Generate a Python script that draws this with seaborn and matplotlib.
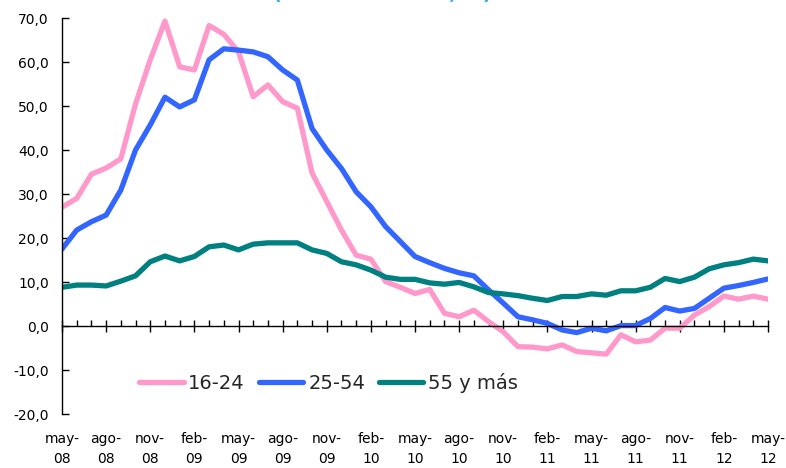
import matplotlib
matplotlib.use("Agg")
import matplotlib.pyplot as plt
from matplotlib.ticker import FixedLocator, FuncFormatter
import seaborn as sns
import numpy as np
import pandas as pd

# meses de may-08 a may-12
months = ["may-08", "jun-08", "jul-08", "ago-08", "sep-08", "oct-08", "nov-08", "dic-08",
          "ene-09", "feb-09", "mar-09", "abr-09", "may-09", "jun-09", "jul-09", "ago-09",
          "sep-09", "oct-09", "nov-09", "dic-09", "ene-10", "feb-10", "mar-10", "abr-10",
          "may-10", "jun-10", "jul-10", "ago-10", "sep-10", "oct-10", "nov-10", "dic-10",
          "ene-11", "feb-11", "mar-11", "abr-11", "may-11", "jun-11", "jul-11", "ago-11",
          "sep-11", "oct-11", "nov-11", "dic-11", "ene-12", "feb-12", "mar-12", "abr-12",
          "may-12"]

jovenes = [27.0, 29.0, 34.5, 35.9, 38.0, 50.5, 60.5, 69.3, 58.9, 58.2,
           68.3, 66.3, 62.3, 52.1, 54.8, 51.0, 49.5, 34.8, 28.3, 21.8,
           16.1, 15.2, 10.1, 8.8, 7.4, 8.3, 2.9, 2.1, 3.6, 1.0,
           -1.3, -4.7, -4.8, -5.2, -4.3, -5.8, -6.1, -6.4, -2.0, -3.6,
           -3.2, -0.5, -0.5, 2.5, 4.4, 6.8, 6.1, 6.8, 6.1]

adultos = [17.5, 21.8, 23.7, 25.2, 30.9, 40.0, 45.7, 52.0, 49.8, 51.4,
           60.5, 63.0, 62.7, 62.3, 61.2, 58.2, 55.9, 44.9, 40.0, 35.8,
           30.5, 27.1, 22.6, 19.2, 15.8, 14.4, 13.1, 12.1, 11.4, 8.2,
           5.2, 2.1, 1.4, 0.6, -0.9, -1.5, -0.5, -1.1, 0.1, 0.1,
           1.7, 4.2, 3.4, 4.0, 6.3, 8.6, 9.2, 9.9, 10.7]

mayores = [8.8, 9.3, 9.3, 9.1, 10.2, 11.4, 14.6, 15.9, 14.8, 15.8,
           18.0, 18.4, 17.3, 18.6, 18.9, 18.9, 18.9, 17.3, 16.5, 14.6,
           13.9, 12.7, 11.1, 10.6, 10.6, 9.8, 9.5, 9.9, 8.9, 7.6,
           7.3, 6.9, 6.3, 5.8, 6.7, 6.7, 7.3, 7.0, 8.0, 8.0,
           8.8, 10.8, 10.1, 11.1, 13.0, 13.9, 14.4, 15.2, 14.8]

series = ["16-24", "25-54", "55 y más"]
colors = ["#FF99CC", "#3366FF", "#008080"]

tick_idx = list(range(0, len(months), 3))
tick_labels = [months[i].replace("-", "-\n") for i in tick_idx]

df = pd.DataFrame({
    "mes": np.tile(np.arange(len(months)), 3),
    "valor": jovenes + adultos + mayores,
    "grupo": np.repeat(series, len(months)),
})

sns.set_style("white")
plt.rcParams["font.family"] = ["DejaVu Sans"]
plt.rcParams["lines.solid_joinstyle"] = "round"
plt.rcParams["lines.solid_capstyle"] = "round"

fig = plt.figure(figsize=(7.86, 4.68), dpi=100)
ax = fig.add_axes([62 / 786, 54 / 468, 706 / 786, 396 / 468])

sns.lineplot(data=df, x="mes", y="valor", hue="grupo", palette=colors,
             linewidth=3.8, ax=ax, legend=True)

ax.set_xlim(0, len(months) - 1)
ax.set_ylim(-20, 70)
ax.set_xlabel("")
ax.set_ylabel("")

# eje x en el cero, etiquetas abajo
for s in ["top", "right"]:
    ax.spines[s].set_visible(False)
ax.spines["bottom"].set_position(("data", 0))
ax.spines["bottom"].set_color("black")
ax.spines["bottom"].set_linewidth(1.0)
ax.spines["left"].set_color("black")
ax.spines["left"].set_linewidth(1.0)

ax.xaxis.set_major_locator(FixedLocator(tick_idx))
ax.xaxis.set_minor_locator(FixedLocator(range(len(months))))
ax.set_xticklabels(tick_labels, linespacing=1.6)
ax.tick_params(axis="x", which="major", bottom=True, direction="inout", length=8,
               width=1, pad=72, labelsize=10, colors="black")
ax.tick_params(axis="x", which="minor", bottom=True, direction="in", length=4,
               width=1, colors="black")

ax.set_yticks(range(-20, 71, 10))
ax.yaxis.set_major_formatter(FuncFormatter(lambda v, p: f"{v:.1f}".replace(".", ",")))
ax.tick_params(axis="y", left=True, direction="in", length=5, width=1, pad=9.5,
               labelsize=10, colors="black")

handles, labels = ax.get_legend_handles_labels()
ax.legend(handles, labels, loc="center left", bbox_to_anchor=(69 / 706, 0.078),
          ncol=3, frameon=False, fontsize=14, handlelength=2.3, handletextpad=0.25,
          columnspacing=0.7, borderaxespad=0)

fig.text(382 / 786, 1.0 + 1 / 468, "(tasa interanual, %)", color="#33AAFF",
         fontsize=14, fontweight="bold", ha="center", va="baseline")

fig.savefig("out.png", dpi=100)
